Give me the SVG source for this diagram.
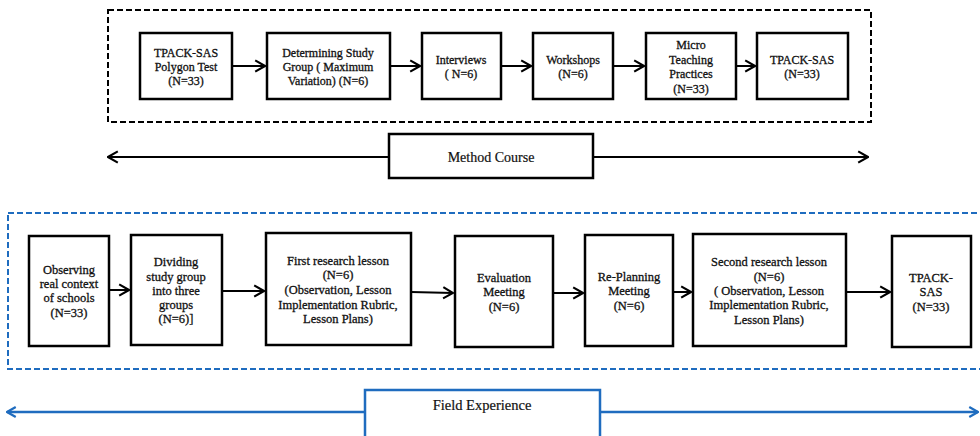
<svg xmlns="http://www.w3.org/2000/svg" width="980" height="436" viewBox="0 0 980 436">
<style>
.box{fill:#fff;stroke:#000;stroke-width:2.5}
text{font-family:'Liberation Serif','DejaVu Serif',serif;font-size:12px;fill:#111;stroke:#111;stroke-width:0.3;text-anchor:middle}
.tb{font-size:12.5px}
.c{stroke:#000;stroke-width:2;fill:none}
.cb{stroke:#1f6cbf;stroke-width:2.5;fill:none}
</style>
<defs>
<marker id="ah" viewBox="0 0 10 10" refX="9" refY="5" markerWidth="7" markerHeight="7" orient="auto-start-reverse" markerUnits="strokeWidth">
<path d="M2,1 L9,5 L2,9" fill="none" stroke="#000" stroke-width="1.5"/>
</marker>
<marker id="ahb" viewBox="0 0 10 10" refX="9" refY="5" markerWidth="5" markerHeight="5" orient="auto-start-reverse" markerUnits="strokeWidth">
<path d="M2,1 L9,5 L2,9" fill="none" stroke="#1f6cbf" stroke-width="1.8"/>
</marker>
</defs>
<rect x="0" y="0" width="980" height="436" fill="#fff"/>
<g id="frames">
<rect x="108" y="10" width="763" height="112" fill="none" stroke="#000" stroke-width="2" stroke-dasharray="6,3"/>
<rect x="8" y="213" width="1000" height="156" fill="none" stroke="#1f6cbf" stroke-width="2" stroke-dasharray="6,3"/>
</g>
<g id="connectors">
<line class="c" x1="232" y1="66" x2="265" y2="66" marker-end="url(#ah)"/>
<line class="c" x1="390" y1="66" x2="420" y2="66" marker-end="url(#ah)"/>
<line class="c" x1="501" y1="66" x2="531" y2="66" marker-end="url(#ah)"/>
<line class="c" x1="613" y1="66" x2="644" y2="66" marker-end="url(#ah)"/>
<line class="c" x1="736" y1="66" x2="755" y2="66" marker-end="url(#ah)"/>
<line class="c" x1="109" y1="290" x2="129" y2="290" marker-end="url(#ah)"/>
<line class="c" x1="222" y1="291" x2="264" y2="291" marker-end="url(#ah)"/>
<line class="c" x1="411" y1="292" x2="453" y2="293" marker-end="url(#ah)"/>
<line class="c" x1="553" y1="293" x2="583" y2="293" marker-end="url(#ah)"/>
<line class="c" x1="673" y1="292" x2="691" y2="292" marker-end="url(#ah)"/>
<line class="c" x1="846" y1="292" x2="890" y2="292" marker-end="url(#ah)"/>
<line class="c" x1="108" y1="157" x2="868" y2="157" marker-start="url(#ah)" marker-end="url(#ah)"/>
<line class="cb" x1="7" y1="412" x2="978" y2="412" marker-start="url(#ahb)" marker-end="url(#ahb)"/>
</g>
<g id="n1"><rect class="box" x="140" y="33" width="92" height="66"/>
<text><tspan x="186" y="57">TPACK-SAS</tspan><tspan x="186" y="71">Polygon Test</tspan><tspan x="186" y="85">(N=33)</tspan></text></g>
<g id="n2"><rect class="box" x="267" y="33" width="123" height="66"/>
<text><tspan x="328" y="57">Determining Study</tspan><tspan x="328" y="71">Group ( Maximum</tspan><tspan x="328" y="85">Variation) (N=6)</tspan></text></g>
<g id="n3"><rect class="box" x="422" y="33" width="79" height="66"/>
<text><tspan x="461" y="64">Interviews</tspan><tspan x="461" y="78">( N=6)</tspan></text></g>
<g id="n4"><rect class="box" x="533" y="33" width="80" height="66"/>
<text><tspan x="573" y="64">Workshops</tspan><tspan x="573" y="78">(N=6)</tspan></text></g>
<g id="n5"><rect class="box" x="646" y="33" width="90" height="66"/>
<text><tspan x="691" y="49">Micro</tspan><tspan x="691" y="64">Teaching</tspan><tspan x="691" y="78">Practices</tspan><tspan x="691" y="93">(N=33)</tspan></text></g>
<g id="n6"><rect class="box" x="757" y="33" width="91" height="66"/>
<text><tspan x="802" y="64">TPACK-SAS</tspan><tspan x="802" y="78">(N=33)</tspan></text></g>
<g id="method"><rect class="box" x="389" y="134" width="204" height="44"/>
<text x="491" y="162" style="font-size:14px;stroke-width:0.2">Method Course</text></g>
<g id="b1"><rect class="box" x="29" y="236" width="80" height="110"/>
<text class="tb"><tspan x="69" y="274">Observing</tspan><tspan x="69" y="288">real context</tspan><tspan x="69" y="302">of schools</tspan><tspan x="69" y="317">(N=33)</tspan></text></g>
<g id="b2"><rect class="box" x="131" y="235" width="91" height="110"/>
<text class="tb"><tspan x="176" y="266">Dividing</tspan><tspan x="176" y="281">study group</tspan><tspan x="176" y="295">into three</tspan><tspan x="176" y="309">groups</tspan><tspan x="176" y="323">(N=6)]</tspan></text></g>
<g id="b3"><rect class="box" x="266" y="233" width="145" height="112"/>
<text class="tb"><tspan x="338" y="265">First research lesson</tspan><tspan x="338" y="279">(N=6)</tspan><tspan x="338" y="294">(Observation, Lesson</tspan><tspan x="338" y="309">Implementation Rubric,</tspan><tspan x="338" y="323">Lesson Plans)</tspan></text></g>
<g id="b4"><rect class="box" x="455" y="236" width="98" height="111"/>
<text class="tb"><tspan x="504" y="282">Evaluation</tspan><tspan x="504" y="296">Meeting</tspan><tspan x="504" y="311">(N=6)</tspan></text></g>
<g id="b5"><rect class="box" x="585" y="235" width="88" height="111"/>
<text class="tb"><tspan x="629" y="281">Re-Planning</tspan><tspan x="629" y="295">Meeting</tspan><tspan x="629" y="310">(N=6)</tspan></text></g>
<g id="b6"><rect class="box" x="693" y="234" width="153" height="112"/>
<text class="tb"><tspan x="769" y="266">Second research lesson</tspan><tspan x="769" y="281">(N=6)</tspan><tspan x="769" y="295">( Observation, Lesson</tspan><tspan x="769" y="309">Implementation Rubric,</tspan><tspan x="769" y="324">Lesson Plans)</tspan></text></g>
<g id="b7"><rect class="box" x="892" y="236" width="79" height="111"/>
<text class="tb"><tspan x="931" y="282">TPACK-</tspan><tspan x="931" y="296">SAS</tspan><tspan x="931" y="311">(N=33)</tspan></text></g>
<g id="field"><rect x="365" y="390" width="235" height="50" fill="#fff" stroke="#1f6cbf" stroke-width="2.5"/>
<text x="482" y="410" style="font-size:14.5px;stroke-width:0.2">Field Experience</text></g>
</svg>
